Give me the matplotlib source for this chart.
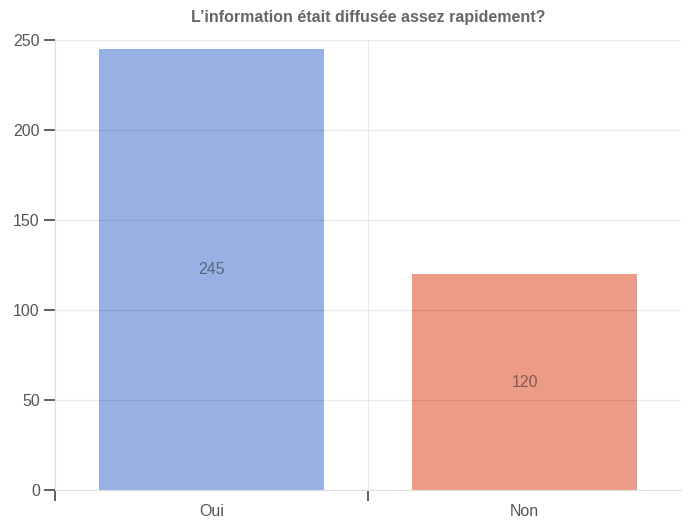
import matplotlib.pyplot as plt

# données
categories = ['Oui', 'Non']
valeurs = [245, 120]
couleurs = ['#97b1e5', '#ec9b86']
y_ticks = [0, 50, 100, 150, 200, 250]

plt.rcParams['font.family'] = ['Liberation Sans', 'DejaVu Sans']

fig = plt.figure(figsize=(6.88, 5.21), dpi=100)
ax = fig.add_axes([0.08, 0.0595, 0.91, 0.8635])

x = list(range(len(categories)))
bars = ax.bar(x, valeurs, width=0.72, color=couleurs, zorder=1)

for xi, v in zip(x, valeurs):
    ax.text(xi, v / 2, str(v), ha='center', va='center', fontsize=11.5,
            color='#333333', alpha=0.6, zorder=3)

ax.set_xlim(-0.5, len(categories) - 0.5)
ax.set_ylim(0, 250)

# grille
for t in y_ticks[1:]:
    ax.axhline(t, color='black', alpha=0.08, lw=1, zorder=2)
ax.axvline(0.5, color='black', alpha=0.08, lw=1, zorder=2)

# axes
ax.set_yticks(y_ticks)
ax.set_xticks([-0.5 + i for i in range(len(categories))])
ax.set_xticklabels([])
ax.set_xticks(x, minor=True)
ax.set_xticklabels(categories, minor=True)
ax.tick_params(axis='x', which='major', length=8, width=1.2, color='#444444')
ax.tick_params(axis='x', which='minor', length=0, pad=10, labelsize=11.5,
               labelcolor='#555555')
ax.tick_params(axis='y', length=8, width=1.2, color='#444444', labelsize=11.5,
               labelcolor='#555555', pad=3)

for s in ['top', 'right']:
    ax.spines[s].set_visible(False)
ax.spines['left'].set_color('#dddddd')
ax.spines['bottom'].set_color('#dddddd')
ax.spines['left'].set_zorder(2)

ax.set_title("L’information était diffusée assez rapidement?", fontsize=11.5,
             fontweight='bold', color='#666666', pad=13)

plt.savefig('out.png', dpi=100)
